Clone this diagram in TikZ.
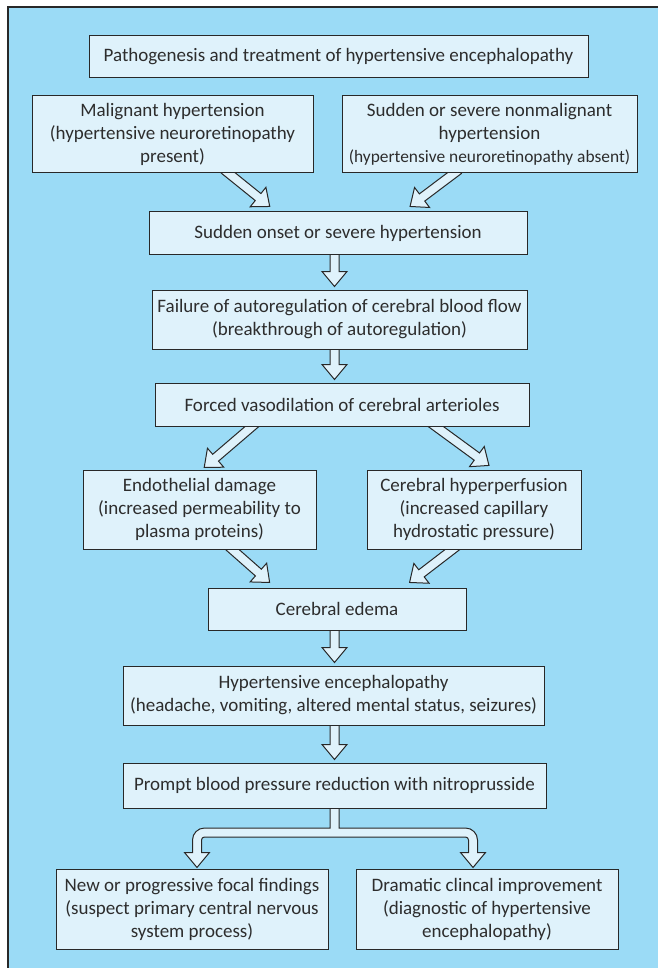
\documentclass[tikz,border=0pt]{standalone}
\usepackage{fontspec}
\setmainfont{Carlito}
\usetikzlibrary{calc}
\definecolor{panelblue}{RGB}{155,219,246}
\definecolor{boxfill}{RGB}{223,242,251}
\definecolor{inkgray}{RGB}{40,40,40}
\definecolor{textgray}{RGB}{45,45,45}
\pgfdeclarelayer{back}
\pgfdeclarelayer{links}
\pgfsetlayers{back,links,main}
\tikzset{
  box/.style={draw=inkgray, fill=boxfill, line width=1pt, text=textgray, align=center,
    inner sep=0pt, font=\fontsize{19}{23}\selectfont},
  fatarrow/.style={draw=inkgray, fill=boxfill, line width=1pt, line join=miter},
  along/.style={shift={(\p1)}, rotate=\n1}
}
% hollow block arrow from #1 to #2 (tip at #2)
\newcommand{\flowarrow}[2]{%
  \draw[fatarrow] let \p1=(#1), \p2=(#2),
      \n1={atan2(\y2-\y1,\x2-\x1)}, \n2={veclen(\x2-\x1,\y2-\y1)} in
    ([along]-6pt,4.5pt) -- ([along]\n2-15pt,4.5pt) -- ([along]\n2-15pt,12.5pt)
    -- ([along]\n2,0pt) -- ([along]\n2-15pt,-12.5pt) -- ([along]\n2-15pt,-4.5pt)
    -- ([along]-6pt,-4.5pt) -- cycle;}

\begin{document}
\begin{tikzpicture}[x=1pt, y=-1pt]
  \useasboundingbox (0,0) rectangle (658,968);
  \begin{pgfonlayer}{back}
    \fill[white] (0,0) rectangle (658,968);
    \fill[panelblue] (8,7) rectangle (658,968);
    \draw[inkgray, line width=1.2pt] (8,968) -- (8,7) -- (658,7);
  \end{pgfonlayer}

  \node[box, minimum width=499pt, minimum height=42pt] (title) at (338.5,57)
    {Pathogenesis and treatment of hypertensive encephalopathy};
  \node[box, minimum width=281pt, minimum height=77pt] (malig) at (172.5,134.5)
    {Malignant hypertension\\(hypertensive neuroretinopathy\\present)};
  \node[box, minimum width=295pt, minimum height=77pt] (severe) at (489.5,134.5)
    {Sudden or severe nonmalignant\\hypertension\\{\fontsize{17.4}{23}\selectfont(hypertensive neuroretinopathy absent)}};
  \node[box, minimum width=378pt, minimum height=42pt] (onset) at (338,233)
    {Sudden onset or severe hypertension};
  \node[box, minimum width=375pt, minimum height=59pt] (failure) at (339.5,319.5)
    {Failure of autoregulation of cerebral blood flow\\(breakthrough of autoregulation)};
  \node[box, minimum width=374pt, minimum height=43pt] (forced) at (342,404.5)
    {Forced vasodilation of cerebral arterioles};
  \node[box, minimum width=233pt, minimum height=79pt] (endo) at (199.5,509.5)
    {Endothelial damage\\(increased permeability to\\plasma proteins)};
  \node[box, minimum width=214pt, minimum height=79pt] (perfusion) at (474,509.5)
    {Cerebral hyperperfusion\\(increased capillary\\hydrostatic pressure)};
  \node[box, minimum width=258pt, minimum height=42pt] (edema) at (337,609)
    {Cerebral edema};
  \node[box, minimum width=421pt, minimum height=59pt] (enceph) at (333.5,695.5)
    {Hypertensive encephalopathy\\(headache, vomiting, altered mental status, seizures)};
  \node[box, minimum width=423pt, minimum height=45pt] (prompt) at (334.5,785.5)
    {Prompt blood pressure reduction with nitroprusside};
  \node[box, minimum width=272pt, minimum height=80pt] (focal) at (192,909)
    {New or progressive focal findings\\(suspect primary central nervous\\system process)};
  \node[box, minimum width=262pt, minimum height=80pt] (improve) at (487,909)
    {Dramatic clincal improvement\\(diagnostic of hypertensive\\encephalopathy)};

  \begin{pgfonlayer}{links}
    \flowarrow{$(malig.south west)!0.7!(malig.south east)$}{$(onset.north west)!0.32!(onset.north east)+(0,-5)$}
    \flowarrow{$(severe.south west)!0.38!(severe.south east)$}{$(onset.north west)!0.69!(onset.north east)+(0,-5)$}
    \flowarrow{onset.south -| prompt}{$(failure.north -| prompt)+(0,-3)$}
    \flowarrow{failure.south -| prompt}{$(forced.north -| prompt)+(0,-3)$}
    \flowarrow{$(forced.south west)!0.26!(forced.south east)$}{$(endo.north west)!0.52!(endo.north east)+(0,-2)$}
    \flowarrow{$(forced.south west)!0.75!(forced.south east)$}{$(perfusion.north west)!0.57!(perfusion.north east)+(0,-4)$}
    \flowarrow{$(endo.south west)!0.64!(endo.south east)$}{$(edema.north west)!0.24!(edema.north east)+(0,-5)$}
    \flowarrow{$(perfusion.south west)!0.4!(perfusion.south east)$}{$(edema.north west)!0.78!(edema.north east)+(0,-5)$}
    \flowarrow{edema.south -| prompt}{$(enceph.north -| prompt)+(0,-3)$}
    \flowarrow{enceph.south -| prompt}{$(prompt.north)+(0,-3)$}
    % forked arrow to the two outcomes
    \draw[fatarrow] let \p1=(prompt.south), \p2=(focal.north), \p3=(improve.north) in
      (\x1-4.5pt,\y1+5pt) -- (\x1-4.5pt,\y1-19.5pt) -- (\x2+12.5pt,\y1-19.5pt)
      arc[start angle=90, end angle=180, radius=12pt] -- (\x2+0.5pt,\y2+16pt)
      -- (\x2-7.5pt,\y2+16pt) -- (\x2+5pt,\y2+1pt) -- (\x2+17.5pt,\y2+16pt)
      -- (\x2+9.5pt,\y2+16pt) -- (\x2+9.5pt,\y1-31.5pt)
      arc[start angle=180, end angle=90, radius=3pt] -- (\x3-21.5pt,\y1-28.5pt)
      arc[start angle=90, end angle=0, radius=3pt] -- (\x3-18.5pt,\y2+16pt)
      -- (\x3-26.5pt,\y2+16pt) -- (\x3-14pt,\y2+1pt) -- (\x3-1.5pt,\y2+16pt)
      -- (\x3-9.5pt,\y2+16pt) -- (\x3-9.5pt,\y1-31.5pt)
      arc[start angle=0, end angle=90, radius=12pt] -- (\x1+4.5pt,\y1-19.5pt)
      -- (\x1+4.5pt,\y1+5pt) -- cycle;
  \end{pgfonlayer}
\end{tikzpicture}
\end{document}
